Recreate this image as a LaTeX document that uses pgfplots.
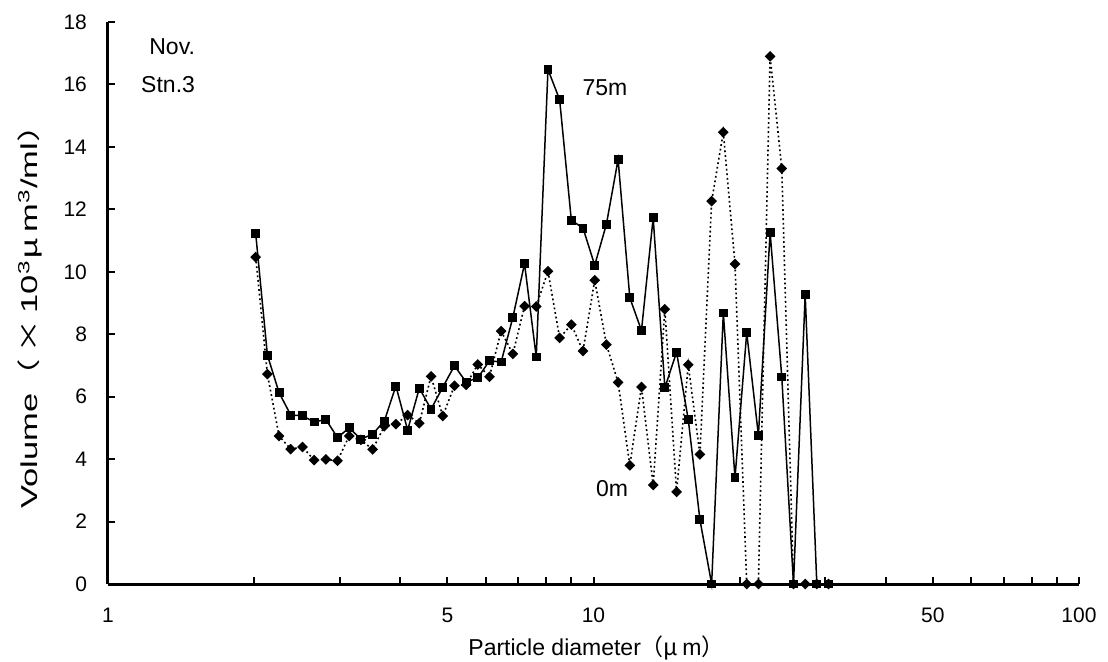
\documentclass[border=0pt]{standalone}
\usepackage{fontspec}
\setmainfont{Liberation Sans}
\newfontfamily\cjk{Noto Sans CJK JP}
\usepackage{pgfplots}
\usepackage{pgfplotstable}
\pgfplotsset{compat=1.18}

\pgfplotstableread{
d v75 v0
2.015 11.22 10.47
2.130 7.33 6.72
2.251 6.13 4.74
2.379 5.41 4.32
2.515 5.39 4.39
2.658 5.19 3.97
2.810 5.27 3.99
2.970 4.69 3.95
3.139 5.00 4.74
3.318 4.64 4.62
3.508 4.80 4.31
3.708 5.22 5.05
3.919 6.34 5.12
4.142 4.93 5.41
4.378 6.27 5.15
4.628 5.60 6.65
4.892 6.30 5.38
5.171 6.99 6.35
5.465 6.47 6.38
5.777 6.60 7.03
6.106 7.15 6.64
6.454 7.11 8.10
6.823 8.54 7.37
7.211 10.26 8.90
7.623 7.27 8.89
8.058 16.48 10.02
8.517 15.51 7.88
9.003 11.65 8.31
9.515 11.40 7.46
10.058 10.21 9.73
10.631 11.52 7.67
11.238 13.60 6.46
11.879 9.17 3.80
12.555 8.12 6.31
13.272 11.73 3.17
14.028 6.29 8.80
14.829 7.42 2.95
15.675 5.27 7.02
16.567 2.06 4.15
17.513 0 12.26
18.512 8.68 14.47
19.567 3.40 10.25
20.683 8.05 0
21.861 4.76 0
23.109 11.26 16.90
24.426 6.63 13.31
25.819 0 0
27.290 9.27 0
28.840 0 0
30.486 0 0
}\datatable

\begin{document}
\begin{tikzpicture}[x=1pt,y=1pt]
\useasboundingbox (-54,-38.5) rectangle (500,292);
\begin{axis}[
  at={(0,0)}, anchor=south west,
  scale only axis, width=485.5pt, height=281pt,
  xmode=log, log basis x=10,
  xmin=1, xmax=100, ymin=0, ymax=18,
  axis lines=left,
  axis line style={-, line width=1.5pt, black},
  tick align=inside,
  major tick length=3.5pt,
  tick style={line width=1pt, black},
  xtick={1,2,3,4,5,6,7,8,9,10,20,30,40,50,60,70,80,90,100},
  xticklabels={1,,,,5,,,,,10,,,,50,,,,,100},
  minor xtick={},
  ytick={0,2,4,6,8,10,12,14,16,18},
  ticklabel style={font=\fontsize{10.5}{12}\selectfont},
  xticklabel style={yshift=-8.5pt},
  yticklabel style={xshift=-7pt},
  yticklabel={\pgfmathprintnumber[assume math mode=true]{\tick}},
  xlabel={Particle diameter{\cjk （μ}\,m{\cjk ）}},
  ylabel={\scalebox{1.5}[1]{Volume{\cjk （\,×\,}10\textsuperscript{3}{\cjk μ}\,m\textsuperscript{3}/ml{\cjk ）}}},
  label style={font=\fontsize{11.5}{13}\selectfont},
  xlabel style={at={(axis description cs:0.503,-0.114)}, anchor=center},
  ylabel style={at={(axis description cs:-0.080,0.490)}, anchor=center},
  clip=false,
]
\addplot[black, line width=0.8pt, dash pattern=on 0.9pt off 1.4pt,
  mark=square*, mark size=1.5pt, mark options={solid, fill=black, rotate=45}]
  table[x=d, y=v0] {\datatable};
\addplot[black, line width=0.75pt,
  mark=square*, mark size=1.85pt, mark options={solid, fill=black}]
  table[x=d, y=v75] {\datatable};
\node[anchor=east, font=\fontsize{11.5}{13}\selectfont] at (axis cs:1.562,17.2) {Nov.};
\node[anchor=east, font=\fontsize{11.5}{13}\selectfont] at (axis cs:1.562,16.0) {Stn.3};
\node[font=\fontsize{11.5}{13}\selectfont] at (axis cs:10.56,15.91) {75m};
\node[font=\fontsize{11.5}{13}\selectfont] at (axis cs:10.92,3.05) {0m};
\end{axis}
\end{tikzpicture}
\end{document}
